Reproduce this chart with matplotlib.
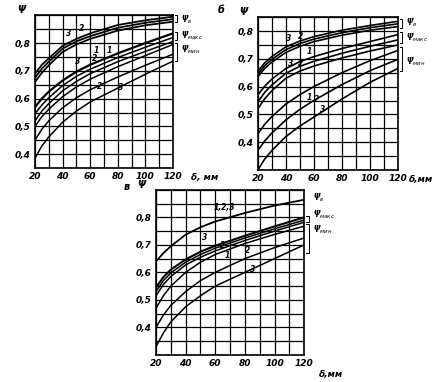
import matplotlib
matplotlib.use("Agg")
import matplotlib.pyplot as plt

# delta, mm
delta = [20, 25, 30, 40, 50, 60, 80, 100, 120]

# panel a
a_v1 = [0.69, 0.722, 0.745, 0.79, 0.815, 0.835, 0.865, 0.882, 0.895]
a_v2 = [0.675, 0.708, 0.733, 0.78, 0.806, 0.825, 0.855, 0.873, 0.886]
a_v3 = [0.66, 0.693, 0.72, 0.768, 0.795, 0.815, 0.845, 0.864, 0.877]
a_max1 = [0.57, 0.60, 0.625, 0.665, 0.697, 0.722, 0.763, 0.80, 0.835]
a_max2 = [0.545, 0.577, 0.603, 0.647, 0.68, 0.706, 0.748, 0.785, 0.82]
a_max3 = [0.52, 0.555, 0.582, 0.628, 0.662, 0.69, 0.733, 0.77, 0.806]
a_min1 = [0.50, 0.535, 0.562, 0.607, 0.642, 0.67, 0.715, 0.755, 0.795]
a_min2 = [0.45, 0.49, 0.52, 0.567, 0.603, 0.632, 0.678, 0.72, 0.76]
a_min3 = [0.385, 0.43, 0.462, 0.515, 0.555, 0.588, 0.638, 0.688, 0.735]

# panel б
b_v1 = [0.655, 0.686, 0.708, 0.743, 0.764, 0.78, 0.803, 0.82, 0.835]
b_v2 = [0.645, 0.676, 0.698, 0.733, 0.755, 0.771, 0.794, 0.812, 0.826]
b_v3 = [0.635, 0.666, 0.688, 0.723, 0.745, 0.762, 0.785, 0.803, 0.816]
b_max1 = [0.57, 0.602, 0.627, 0.665, 0.69, 0.708, 0.737, 0.762, 0.787]
b_max2 = [0.545, 0.58, 0.606, 0.648, 0.673, 0.691, 0.72, 0.745, 0.768]
b_max3 = [0.52, 0.557, 0.585, 0.63, 0.656, 0.674, 0.703, 0.728, 0.75]
b_min1 = [0.43, 0.465, 0.492, 0.537, 0.571, 0.6, 0.65, 0.693, 0.73]
b_min2 = [0.37, 0.405, 0.433, 0.48, 0.518, 0.55, 0.607, 0.657, 0.698]
b_min3 = [0.30, 0.34, 0.37, 0.42, 0.458, 0.49, 0.555, 0.615, 0.665]

# panel в
c_v = [0.64, 0.67, 0.695, 0.737, 0.764, 0.785, 0.816, 0.843, 0.864]
c_max1 = [0.545, 0.583, 0.61, 0.647, 0.675, 0.697, 0.733, 0.767, 0.80]
c_max2 = [0.53, 0.57, 0.598, 0.637, 0.665, 0.688, 0.725, 0.758, 0.79]
c_max3 = [0.515, 0.556, 0.585, 0.627, 0.655, 0.678, 0.716, 0.75, 0.782]
c_min1 = [0.47, 0.515, 0.55, 0.60, 0.637, 0.665, 0.705, 0.738, 0.768]
c_min2 = [0.40, 0.445, 0.48, 0.53, 0.57, 0.60, 0.65, 0.69, 0.725]
c_min3 = [0.33, 0.38, 0.42, 0.475, 0.515, 0.55, 0.60, 0.65, 0.70]

x_ticks = [20, 40, 60, 80, 100, 120]
y_ticks = [0.4, 0.5, 0.6, 0.7, 0.8]
y_tick_labels = ["0,4", "0,5", "0,6", "0,7", "0,8"]

FONT = dict(fontstyle="italic", fontweight="bold", family="DejaVu Sans")


def setup(ax, ymin, ymax):
    ax.set_xlim(20, 120)
    ax.set_ylim(ymin, ymax)
    for x in range(20, 121, 10):
        ax.axvline(x, color="black", lw=0.9, zorder=1)
    y = ymin
    while y <= ymax + 1e-9:
        ax.axhline(y, color="black", lw=0.9, zorder=1)
        y += 0.05
    ax.set_xticks(x_ticks)
    ax.set_xticklabels([str(t) for t in x_ticks], fontsize=6.5, **FONT)
    ax.set_yticks(y_ticks)
    ax.set_yticklabels(y_tick_labels, fontsize=6.5, **FONT)
    ax.tick_params(length=0, pad=3)
    for s in ax.spines.values():
        s.set_linewidth(1.2)
    ax.text(-0.1, 1.0, "Ψ", transform=ax.transAxes, fontsize=7, ha="center", va="bottom", **FONT)


def curves(ax, series, lws):
    for ys, lw in zip(series, lws):
        ax.plot(delta, ys, color="black", lw=lw, zorder=3, solid_capstyle="round")


def bracket(ax, y0, y1, label, ly):
    ax.plot([1.015, 1.03, 1.03, 1.015], [y0, y0, y1, y1], color="black", lw=0.7,
            transform=ax.get_yaxis_transform(), clip_on=False)
    ax.text(1.06, ly, label, transform=ax.get_yaxis_transform(), fontsize=5.5,
            va="center", ha="left", **FONT)


def nums(ax, items):
    for x, y, t in items:
        ax.text(x, y, t, fontsize=5.5, ha="center", va="center", zorder=4, **FONT)


fig = plt.figure(figsize=(4.37, 3.82), dpi=100)

# а
ax1 = fig.add_axes([0.080, 0.560, 0.316, 0.400])
setup(ax1, 0.35, 0.9)
curves(ax1, [a_v1, a_v2, a_v3], [1.3, 1.3, 1.3])
curves(ax1, [a_max1, a_max2, a_max3, a_min1, a_min2, a_min3], [1.6, 1.1, 1.1, 1.1, 1.1, 1.1])
bracket(ax1, 0.875, 0.9, "Ψ$_в$", 0.885)
bracket(ax1, 0.81, 0.84, "Ψ$_{макс}$", 0.825)
bracket(ax1, 0.735, 0.80, "Ψ$_{мин}$", 0.775)
nums(ax1, [(44.7, 0.834, "3"), (54, 0.852, "2"), (64.7, 0.775, "1"), (74, 0.775, "1"),
           (63.5, 0.745, "2"), (51, 0.732, "3"), (67, 0.645, "2"), (82, 0.64, "3")])
ax1.text(1.13, -0.06, "δ, мм", transform=ax1.transAxes, fontsize=6.5, ha="left", va="center", **FONT)

# б
ax2 = fig.add_axes([0.590, 0.555, 0.320, 0.400])
setup(ax2, 0.3, 0.85)
curves(ax2, [b_v1, b_v2, b_v3, b_max1, b_max2, b_max3, b_min1, b_min2, b_min3], [1.2] * 9)
bracket(ax2, 0.81, 0.845, "Ψ$_в$", 0.83)
bracket(ax2, 0.757, 0.795, "Ψ$_{макс}$", 0.775)
bracket(ax2, 0.656, 0.742, "Ψ$_{мин}$", 0.69)
nums(ax2, [(42, 0.775, "3"), (50.6, 0.782, "2"), (56.5, 0.727, "1"), (43.5, 0.685, "3"),
           (50.6, 0.685, "2"), (56.5, 0.56, "1"), (62, 0.552, "2"), (66, 0.517, "3")])
ax2.text(1.08, -0.06, "δ,мм", transform=ax2.transAxes, fontsize=6.5, ha="left", va="center", **FONT)
fig.text(0.505, 0.975, "б", fontsize=7, ha="center", va="center", **FONT)

# в
ax3 = fig.add_axes([0.357, 0.071, 0.339, 0.432])
setup(ax3, 0.3, 0.9)
curves(ax3, [c_v], [1.3])
curves(ax3, [c_max1, c_max2, c_max3, c_min1, c_min2, c_min3], [1.5, 1.1, 1.1, 1.1, 1.1, 1.1])
ax3.text(1.06, 0.87, "Ψ$_в$", transform=ax3.get_yaxis_transform(), fontsize=5.5, va="center", **FONT)
bracket(ax3, 0.782, 0.805, "Ψ$_{макс}$", 0.81)
bracket(ax3, 0.67, 0.775, "Ψ$_{мин}$", 0.755)
nums(ax3, [(66, 0.836, "1,2,3"), (53, 0.728, "3"), (65, 0.698, "2"), (68, 0.662, "1"),
           (82, 0.68, "2"), (85.5, 0.612, "3")])
ax3.text(1.1, -0.12, "δ,мм", transform=ax3.transAxes, fontsize=6.5, ha="left", va="center", **FONT)
fig.text(0.29, 0.51, "в", fontsize=7, ha="center", va="center", **FONT)

fig.savefig("out.png", dpi=100)
